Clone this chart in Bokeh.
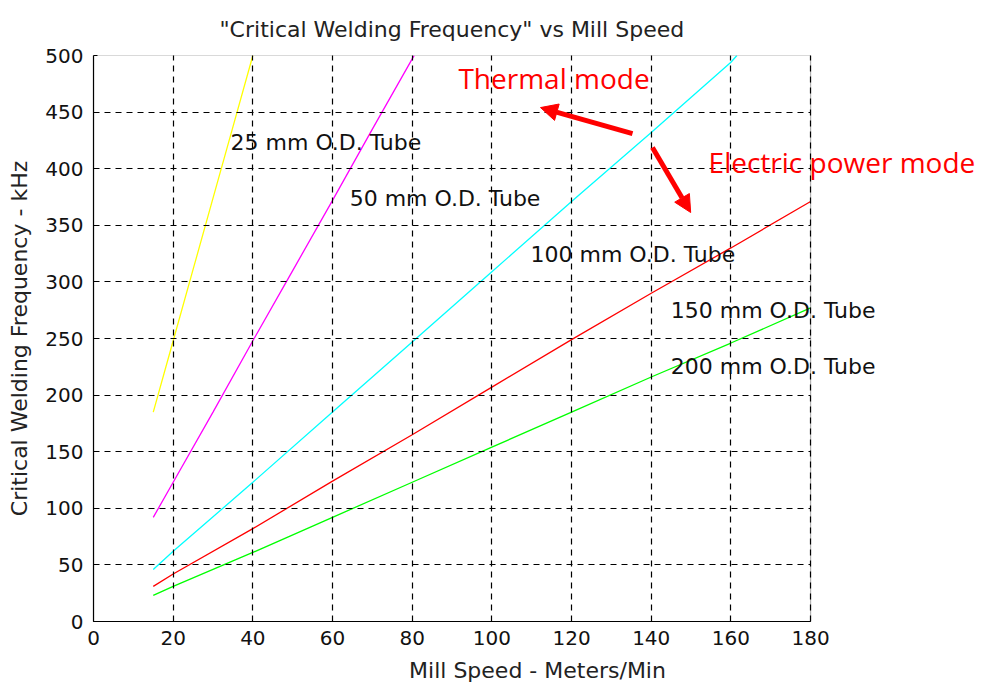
from bokeh.plotting import figure
from bokeh.models import Label, Arrow, NormalHead, Range1d, FixedTicker, BoxAnnotation
from bokeh.embed import file_html
from bokeh.resources import INLINE

# Mill speed (m/min) and critical welding frequency (kHz) per tube diameter
speed_25 = [15, 20, 25, 30, 35, 40]
freq_25 = [185, 248, 311, 374, 437, 500]

speed_50 = [15, 20, 30, 40, 50, 60, 70, 80, 80.5]
freq_50 = [92, 123, 185, 248, 310, 372, 435, 497, 500]

speed_100 = [15, 20, 40, 60, 80, 100, 120, 140, 160, 161.5]
freq_100 = [46, 62, 123, 185, 247, 309, 371, 432, 494, 500]

speed_150 = [15, 20, 40, 60, 80, 100, 120, 140, 160, 180]
freq_150 = [31, 42, 82, 124, 165, 207, 249, 290, 330, 371]

speed_200 = [15, 20, 40, 60, 80, 100, 120, 140, 160, 180]
freq_200 = [23, 31, 61, 92, 123, 154, 185, 216, 246, 277]

x_ticks = [0, 20, 40, 60, 80, 100, 120, 140, 160, 180]
y_ticks = [0, 50, 100, 150, 200, 250, 300, 350, 400, 450, 500]

X_MAX = 180
Y_MAX = 500

FONT = "DejaVu Sans"

# The frame runs to the right edge of the page so that the annotations
# on the right are not cut off; the axes box itself stops at 180.
p = figure(width=981, height=686, output_backend="svg", toolbar_location=None,
           x_range=Range1d(0, 222.9), y_range=Range1d(0, Y_MAX),
           min_border_left=93, min_border_right=0,
           min_border_top=55, min_border_bottom=65,
           title='"Critical Welding Frequency" vs Mill Speed')

# title centred over the axes box rather than over the whole frame
p.title.align = "left"
p.title.offset = 126
p.title.text_font = FONT
p.title.text_font_size = "22px"
p.title.text_font_style = "normal"
p.title.text_color = "#222222"
p.title.standoff = 27
p.outline_line_color = None

xa = p.below[0]
ya = p.left[0]
for ax in (xa, ya):
    ax.major_label_text_font = FONT
    ax.major_label_text_font_size = "20px"
    ax.major_label_text_color = "#111111"
    ax.axis_label_text_font = FONT
    ax.axis_label_text_font_size = "22px"
    ax.axis_label_text_font_style = "normal"
    ax.axis_label_text_color = "#222222"
    ax.major_tick_in = 4
    ax.major_tick_out = 0
    ax.minor_tick_in = 0
    ax.minor_tick_out = 0
    ax.axis_line_color = "black"
    ax.axis_line_width = 1.2
    ax.major_tick_line_color = "black"

xa.ticker = FixedTicker(ticks=x_ticks)
ya.ticker = FixedTicker(ticks=y_ticks)
xa.bounds = (0, X_MAX)
xa.axis_label = "Mill Speed - Meters/Min"
ya.axis_label = "Critical Welding Frequency - kHz"
xa.major_label_standoff = 9
ya.major_label_standoff = 10
xa.axis_label_standoff = 10
ya.axis_label_standoff = 10

p.xgrid.ticker = FixedTicker(ticks=x_ticks)
p.ygrid.ticker = FixedTicker(ticks=y_ticks)
p.ygrid.cross_bounds = (0, X_MAX)
for g in (p.xgrid[0], p.ygrid[0]):
    g.grid_line_color = "black"
    g.grid_line_dash = "6 5"
    g.grid_line_width = 1.2
    g.grid_line_alpha = 1.0
    g.level = "annotation"

# curves
p.line(speed_25, freq_25, line_color="#ffff00", line_width=1.3)
p.line(speed_50, freq_50, line_color="#ff00ff", line_width=1.3)
p.line(speed_100, freq_100, line_color="#00ffff", line_width=1.3)
p.line(speed_150, freq_150, line_color="#ff0000", line_width=1.3)
p.line(speed_200, freq_200, line_color="#00ff00", line_width=1.3)

# curve labels
curve_labels = [
    (34.4, 423, "25 mm O.D. Tube"),
    (64.3, 374, "50 mm O.D. Tube"),
    (109.7, 324, "100 mm O.D. Tube"),
    (144.9, 275, "150 mm O.D. Tube"),
    (144.9, 225, "200 mm O.D. Tube"),
]
for lx, ly, txt in curve_labels:
    p.add_layout(Label(x=lx, y=ly, text=txt, text_font=FONT, text_font_size="22px",
                       text_color="#111111", text_baseline="middle",
                       text_align="left", level="glyph"))

# axes box
p.add_layout(BoxAnnotation(left=0, right=X_MAX, bottom=0, top=Y_MAX,
                           fill_alpha=0, line_color="black", line_width=1.2,
                           level="overlay"))

# mode annotations
MODE_FONT = "Open Sans"
MODE_FS = "28px"
p.add_layout(Arrow(x_start=135.3, y_start=431, x_end=112.2, y_end=454,
                   line_color="#ff0000", line_width=5, level="overlay",
                   end=NormalHead(size=17, fill_color="#ff0000", line_color="#ff0000")))
p.add_layout(Arrow(x_start=140.3, y_start=418.7, x_end=149.9, y_end=361.3,
                   line_color="#ff0000", line_width=5, level="overlay",
                   end=NormalHead(size=17, fill_color="#ff0000", line_color="#ff0000")))
p.add_layout(Label(x=91.6, y=480, text="Thermal mode", text_font=MODE_FONT,
                   text_font_size=MODE_FS, text_color="#ff0000",
                   text_baseline="middle", text_align="left", level="overlay"))
p.add_layout(Label(x=154.4, y=405.5, text="Electric power mode", text_font=MODE_FONT,
                   text_font_size=MODE_FS, text_color="#ff0000",
                   text_baseline="middle", text_align="left", level="overlay"))

open("out.html", "w").write(file_html(p, INLINE))
